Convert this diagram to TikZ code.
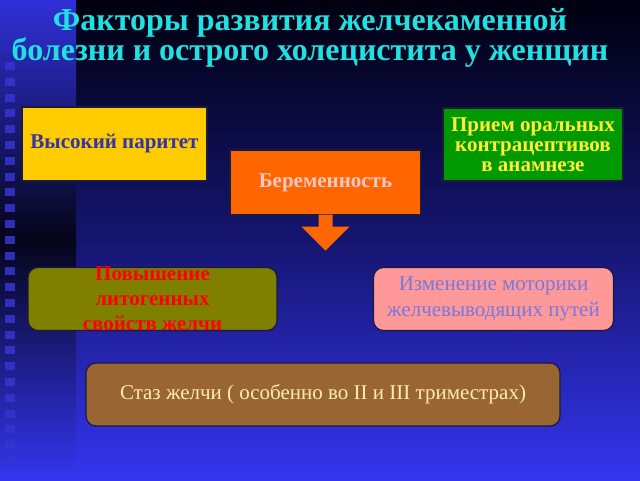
\documentclass[tikz,border=0pt]{standalone}
\usepackage{fontspec}
\setmainfont{Liberation Serif}
\usetikzlibrary{positioning,calc}

\definecolor{bgtop}{HTML}{000010}
\definecolor{bgmid}{HTML}{151570}
\definecolor{bgbot}{HTML}{3535F0}
\definecolor{stripmid}{HTML}{05051A}
\definecolor{sqblue}{HTML}{3535D0}
\definecolor{titlecyan}{HTML}{22E0E0}
\definecolor{edgedark}{HTML}{1A1A3A}
\definecolor{yellowbox}{HTML}{FFCC00}
\definecolor{orangebox}{HTML}{FF6600}
\definecolor{greenbox}{HTML}{009900}
\definecolor{olivebox}{HTML}{808000}
\definecolor{pinkbox}{HTML}{FF9999}
\definecolor{brownbox}{HTML}{996633}
\definecolor{textblue}{HTML}{3333AA}
\definecolor{textpink}{HTML}{F5C8C8}
\definecolor{textyellow}{HTML}{FFEE33}
\definecolor{textred}{HTML}{FF0000}
\definecolor{textlilac}{HTML}{7777DD}
\definecolor{textcream}{HTML}{FFEEAA}

\begin{document}
\begin{tikzpicture}[
    x=1pt, y=-1pt,
    factor/.style={rectangle, draw=edgedark, line width=1.2pt, inner sep=1pt, align=center, font=\fontsize{21}{20}\selectfont\bfseries},
    softbox/.style={rectangle, rounded corners=10pt, draw=edgedark, line width=1.2pt, inner sep=1pt, align=center},
    square/.style={fill=sqblue, draw=none}
]

% Background
\useasboundingbox (0,0) rectangle (640,480);
\shade[top color=bgtop, bottom color=bgbot, middle color=bgmid] (0,0) rectangle (640,480);
\shade[top color=bgbot!90!black, bottom color=bgbot, middle color=stripmid] (0,0) rectangle (76,480);
\foreach \k in {0,...,25}
    \fill[square, opacity=0.85] (5,{62+15.8*\k}) rectangle (15,{70+15.8*\k});

% Title
\node[text=titlecyan, inner sep=0pt, font=\fontsize{32}{27}\selectfont\bfseries, align=center] (title) at (310,38)
    {Факторы развития желчекаменной\\болезни и острого холецистита у женщин};

% Top row
\node[factor, fill=yellowbox, text=textblue, minimum width=185pt, minimum height=74pt] (parity) at (114.5,144) {Высокий паритет};
\node[factor, fill=orangebox, text=textpink, minimum width=191pt, minimum height=65pt] (preg) at (325.5,182.5) {Беременность};
\node[factor, fill=greenbox, text=textyellow, minimum width=180pt, minimum height=73pt] (contra) at (533,144.5)
    {Прием оральных\\контрацептивов\\в анамнезе};

% Block arrow
\fill[orangebox] ($(preg.south)+(-7,-1)$) -- ($(preg.south)+(7,-1)$) -- ($(preg.south)+(7,11)$) -- ($(preg.south)+(24,11)$)
    -- ($(preg.south)+(0,35)$) -- ($(preg.south)+(-24,11)$) -- ($(preg.south)+(-7,11)$) -- cycle;

% Middle row
\node[softbox, fill=olivebox, minimum width=249pt, minimum height=63pt] (litho) at (152.5,299) {};
\node[text=textred, inner sep=0pt, align=center, font=\fontsize{21}{25}\selectfont\bfseries] (lithotext) at (litho.center)
    {Повышение\\литогенных\\свойств желчи};
\node[softbox, fill=pinkbox, text=textlilac, minimum width=240pt, minimum height=63pt, font=\fontsize{21}{26}\selectfont] (motor) at (493.5,299)
    {Изменение моторики\\желчевыводящих путей};

% Bottom row
\node[softbox, fill=brownbox, text=textcream, minimum width=474pt, minimum height=63pt, font=\fontsize{21}{24}\selectfont] (stasis) at (323,394.5)
    {Стаз желчи ( особенно во II и III триместрах)};

\end{tikzpicture}
\end{document}
